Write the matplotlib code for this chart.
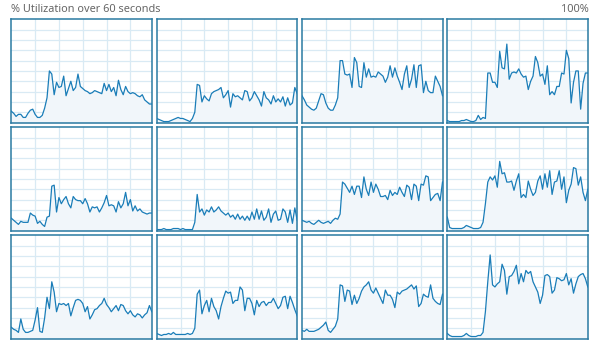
import matplotlib.pyplot as plt
import numpy as np

# CPU utilisation per logical processor, 60 one-second samples each (%)
cpu0 = [11, 9, 6, 8, 8, 5, 5, 9, 12, 13, 8, 5, 5, 7, 14, 24, 50, 47, 27, 39,
        34, 35, 45, 26, 33, 40, 31, 34, 47, 35, 33, 31, 30, 28, 29, 31, 30, 29, 28, 38,
        31, 37, 30, 34, 26, 41, 32, 27, 35, 30, 28, 29, 28, 26, 25, 27, 22, 20, 18, 18]
cpu1 = [4, 3, 2, 1, 1, 1, 2, 3, 4, 5, 4, 4, 3, 2, 1, 4, 10, 37, 36, 20,
        26, 23, 21, 28, 30, 31, 32, 34, 24, 27, 31, 15, 28, 25, 26, 24, 22, 31, 30, 21,
        24, 30, 26, 22, 16, 30, 24, 22, 18, 26, 20, 23, 20, 25, 16, 24, 17, 19, 34, 28]
cpu2 = [26, 22, 17, 15, 13, 12, 14, 21, 28, 27, 19, 14, 12, 12, 17, 24, 60, 60, 47, 46,
        47, 34, 63, 58, 35, 34, 58, 44, 52, 44, 45, 44, 49, 47, 45, 39, 44, 55, 44, 53,
        45, 39, 32, 47, 55, 34, 42, 56, 34, 55, 56, 29, 40, 31, 29, 29, 45, 40, 35, 26]
cpu3 = [2, 1, 1, 1, 1, 1, 2, 2, 3, 2, 1, 1, 2, 7, 3, 5, 4, 48, 48, 39,
        39, 34, 69, 53, 52, 76, 42, 48, 49, 48, 52, 47, 44, 45, 32, 40, 45, 64, 58, 45,
        47, 37, 55, 27, 30, 27, 35, 35, 48, 47, 70, 62, 19, 39, 50, 50, 13, 38, 48, 48]
cpu4 = [12, 10, 8, 6, 9, 8, 8, 8, 17, 15, 14, 7, 9, 6, 4, 13, 14, 43, 44, 18,
        32, 26, 30, 33, 26, 22, 33, 30, 29, 29, 26, 31, 26, 18, 23, 22, 23, 18, 22, 27,
        34, 24, 25, 24, 18, 28, 22, 26, 37, 24, 30, 19, 24, 19, 21, 18, 17, 16, 17, 17]
cpu5 = [1, 1, 1, 2, 1, 1, 1, 2, 2, 2, 1, 2, 1, 1, 1, 1, 8, 35, 18, 21,
        15, 20, 18, 23, 18, 20, 23, 19, 17, 15, 17, 13, 15, 11, 16, 11, 14, 10, 14, 10,
        18, 11, 21, 11, 19, 10, 13, 21, 8, 16, 19, 10, 11, 21, 18, 8, 20, 7, 22, 10]
cpu6 = [10, 9, 8, 9, 7, 6, 8, 10, 8, 7, 8, 9, 7, 10, 12, 11, 16, 47, 45, 41,
        37, 43, 35, 43, 43, 32, 52, 40, 34, 47, 37, 45, 40, 33, 33, 34, 30, 39, 34, 37,
        35, 42, 37, 33, 44, 42, 30, 45, 43, 29, 45, 44, 53, 52, 29, 32, 35, 36, 29, 47]
cpu7 = [13, 3, 2, 2, 2, 2, 2, 3, 5, 4, 3, 2, 2, 2, 3, 8, 26, 47, 52, 49,
        53, 42, 67, 55, 56, 47, 47, 48, 39, 48, 55, 32, 35, 32, 48, 40, 34, 37, 48, 53,
        40, 55, 42, 58, 35, 47, 48, 58, 40, 52, 27, 39, 45, 61, 60, 44, 52, 37, 29, 40]
cpu8 = [11, 9, 8, 6, 19, 9, 6, 6, 7, 8, 18, 30, 7, 6, 20, 40, 29, 55, 45, 26,
        34, 33, 34, 32, 34, 22, 30, 37, 38, 37, 34, 26, 31, 19, 23, 28, 29, 32, 34, 39,
        33, 30, 26, 29, 32, 27, 33, 32, 27, 24, 27, 23, 21, 24, 23, 20, 23, 25, 32, 26]
cpu9 = [5, 4, 3, 4, 4, 5, 4, 6, 4, 4, 4, 4, 4, 5, 4, 5, 10, 43, 47, 24,
        32, 37, 26, 39, 31, 27, 19, 31, 39, 46, 44, 45, 34, 37, 37, 50, 47, 27, 39, 39,
        34, 23, 37, 31, 35, 36, 32, 35, 35, 39, 34, 29, 32, 40, 41, 29, 41, 35, 28, 22]
cpu10 = [8, 7, 9, 7, 7, 7, 8, 9, 11, 13, 16, 8, 6, 9, 12, 19, 52, 51, 36, 47,
         46, 33, 42, 34, 39, 46, 50, 52, 55, 47, 44, 49, 44, 39, 34, 47, 42, 42, 38, 30,
         45, 43, 46, 47, 48, 50, 52, 48, 51, 31, 34, 43, 41, 40, 52, 39, 36, 34, 33, 43]
cpu11 = [5, 3, 2, 2, 2, 2, 2, 3, 5, 3, 2, 2, 2, 3, 3, 6, 26, 55, 81, 52,
         50, 53, 55, 72, 66, 43, 60, 61, 65, 71, 53, 63, 55, 66, 63, 65, 55, 50, 45, 34,
         42, 61, 62, 60, 44, 47, 59, 58, 56, 57, 63, 52, 58, 44, 53, 60, 62, 63, 58, 50]

series = [cpu0, cpu1, cpu2, cpu3, cpu4, cpu5, cpu6, cpu7, cpu8, cpu9, cpu10, cpu11]

W, H = 608, 353
fig = plt.figure(figsize=(W / 100, H / 100), dpi=100)
fig.patch.set_facecolor('white')

line_col = '#1a7db8'
fill_col = '#f1f6fa'
grid_col = '#d9eaf4'
edge_col = '#2a7aa2'
text_col = '#666666'

fig.text(11 / W, 1 - 10 / H, '% Utilization over 60 seconds', fontsize=7.9,
         color=text_col, family='Noto Sans', va='center', ha='left')
fig.text(589 / W, 1 - 10 / H, '100%', fontsize=7.9, color=text_col,
         family='Noto Sans', va='center', ha='right')

lefts = [11.3, 156.7, 302.0, 447.3]
tops = [19.3, 127.3, 235.3]
pw, ph = 140.5, 103.3

for i, vals in enumerate(series):
    r, c = divmod(i, 4)
    ax = fig.add_axes([lefts[c] / W, 1 - (tops[r] + ph) / H, pw / W, ph / H])
    x = np.arange(len(vals))
    ax.fill_between(x, vals, 0, color=fill_col, lw=0, zorder=1)
    ax.plot(x, vals, color=line_col, lw=0.9, zorder=3)
    ax.set_xlim(0, 59)
    ax.set_ylim(0, 100)
    ax.set_xticks(range(10, 60, 10))
    ax.set_yticks(range(10, 100, 10))
    ax.grid(True, color=grid_col, lw=0.9, zorder=0)
    ax.set_axisbelow(True)
    ax.tick_params(length=0, labelbottom=False, labelleft=False)
    for s in ax.spines.values():
        s.set_color(edge_col)
        s.set_linewidth(1.1)

plt.savefig('out.png', dpi=100)
